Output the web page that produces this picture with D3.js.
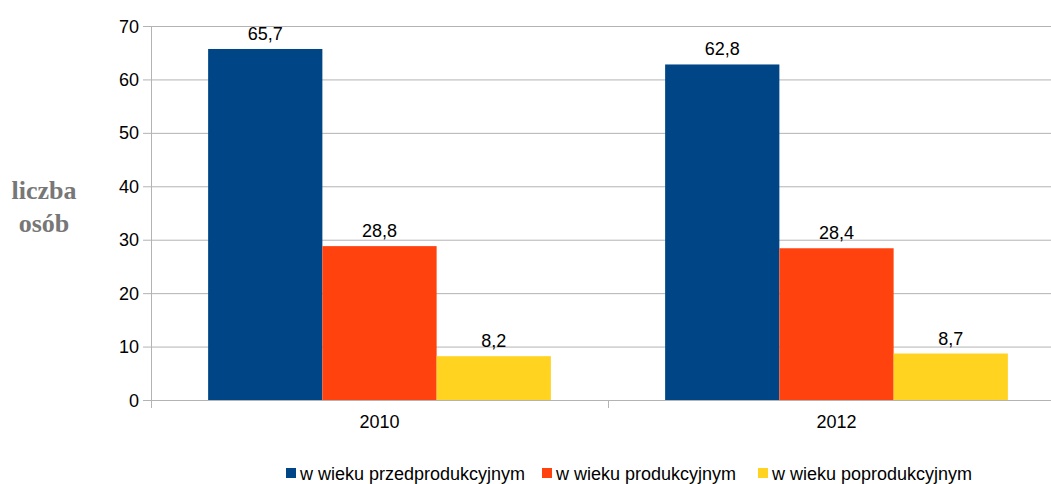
<!DOCTYPE html>
<html lang="pl">
<head>
<meta charset="UTF-8">
<title>liczba osób</title>
<script src="https://d3js.org/d3.v7.min.js"></script>
<style>
  body { margin: 0; background: #fff; }
  svg text { font-family: "Liberation Sans", Arial, sans-serif; fill: #000; }
</style>
</head>
<body>
<div id="chart"></div>
<script>
const years = ["2010", "2012"];
const series = ["w wieku przedprodukcyjnym", "w wieku produkcyjnym", "w wieku poprodukcyjnym"];
const przed = [65.7, 62.8];
const prod = [28.8, 28.4];
const poprod = [8.2, 8.7];
const yTicks = [0, 10, 20, 30, 40, 50, 60, 70];
const colors = ["#004586", "#ff420e", "#ffd320"];

const w = 1051, h = 484;
const values = [przed, prod, poprod];
const rows = [];
years.forEach((y, i) => series.forEach((s, j) => rows.push({year: y, series: s, v: values[j][i], k: j})));

const svg = d3.select("#chart").append("svg").attr("width", w).attr("height", h);

const x0 = d3.scaleBand().domain(years).range([151, 1065]);
const x1 = d3.scaleBand().domain(series).range([x0.bandwidth() * 0.125, x0.bandwidth() * 0.875]);
const y = d3.scaleLinear().domain([0, 70]).range([400, 26]);

// grid
svg.append("g").selectAll("line").data(yTicks).join("line")
  .attr("x1", 143).attr("x2", w)
  .attr("y1", d => y(d) + 0.5).attr("y2", d => y(d) + 0.5)
  .attr("stroke", "#b3b3b3");

// y axis
const yAxis = svg.append("g").attr("transform", "translate(151,0)")
  .call(d3.axisLeft(y).tickValues(yTicks).tickSize(0).tickPadding(12));
yAxis.select(".domain").remove();
yAxis.selectAll("text").style("font-size", "18px").attr("dy", "0.34em");
svg.append("line").attr("x1", 151.5).attr("x2", 151.5).attr("y1", 26).attr("y2", 408).attr("stroke", "#b3b3b3");

// x axis
svg.append("g").selectAll("line").data([608]).join("line")
  .attr("x1", d => d + 0.5).attr("x2", d => d + 0.5).attr("y1", 400).attr("y2", 408)
  .attr("stroke", "#b3b3b3");
const xAxis = svg.append("g").attr("transform", "translate(0,400)")
  .call(d3.axisBottom(x0).tickSize(0).tickPadding(15));
xAxis.select(".domain").remove();
xAxis.selectAll("text").style("font-size", "18px");

// bars
svg.append("g").selectAll("rect").data(rows).join("rect")
  .attr("x", d => x0(d.year) + x1(d.series))
  .attr("y", d => y(d.v))
  .attr("width", x1.bandwidth())
  .attr("height", d => y(0) - y(d.v))
  .attr("fill", d => colors[d.k]);

svg.append("g").selectAll("text").data(rows).join("text")
  .attr("x", d => x0(d.year) + x1(d.series) + x1.bandwidth() / 2)
  .attr("y", d => y(d.v) - 9)
  .attr("text-anchor", "middle")
  .style("font-size", "18px")
  .text(d => String(d.v).replace(".", ","));

// y title
const yt = svg.append("text").attr("text-anchor", "middle")
  .style("font-family", "'Liberation Serif', 'Times New Roman', serif")
  .style("font-weight", "bold").style("font-size", "26px").style("fill", "#777");
yt.append("tspan").attr("x", 44).attr("y", 199).text("liczba");
yt.append("tspan").attr("x", 44).attr("y", 232).text("osób");

// legend
const legX = [286, 542, 758];
const leg = svg.append("g").selectAll("g").data(series).join("g")
  .attr("transform", (d, i) => `translate(${legX[i]},468)`);
leg.append("rect").attr("width", 10).attr("height", 10).attr("fill", (d, i) => colors[i]);
leg.append("text").attr("x", 14).attr("y", 11.5).style("font-size", "18px").text(d => d);
</script>
</body>
</html>
